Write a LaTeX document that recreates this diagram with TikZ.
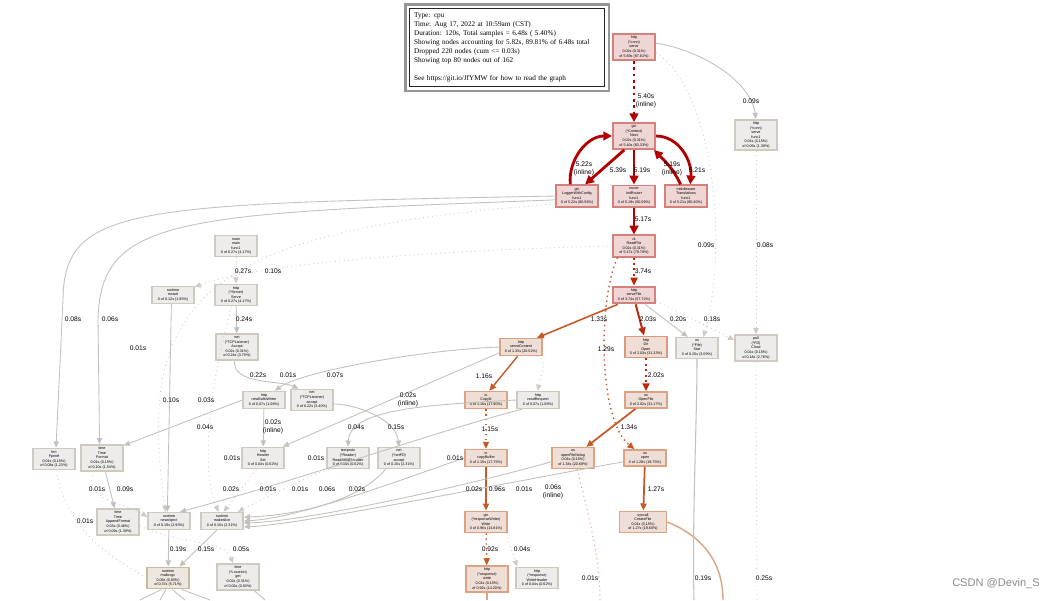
\documentclass[tikz,border=0pt]{standalone}
\usepackage{fontspec}
\setmainfont{Liberation Serif}
\setsansfont{Liberation Sans}
\usetikzlibrary{arrows.meta}

\definecolor{hotedge}{RGB}{178,0,0}
\definecolor{hotline}{RGB}{214,128,126}
\definecolor{hotfill}{RGB}{239,214,213}
\definecolor{midedge}{RGB}{190,40,10}
\definecolor{warmedge}{RGB}{196,90,40}
\definecolor{warmline}{RGB}{220,162,130}
\definecolor{warmfill}{RGB}{238,222,213}
\definecolor{tepidline}{RGB}{204,186,160}
\definecolor{tepidfill}{RGB}{237,231,223}
\definecolor{coolline}{RGB}{206,202,194}
\definecolor{coolfill}{RGB}{237,236,234}
\definecolor{cooledge}{RGB}{196,193,188}
\definecolor{faintedge}{RGB}{206,203,198}
\definecolor{legendframe}{RGB}{150,150,150}

\begin{document}
\begin{tikzpicture}[
    x=0.02cm, y=-0.02cm,
    font=\sffamily,
    % one style per heat of a function box
    fn/.style     = {draw, line width=0.9pt, align=center, inner xsep=1.5pt, inner ysep=1.2pt,
                     minimum width=0.84cm, font=\sffamily\fontsize{2.1}{2.6}\selectfont},
    hot/.style    = {fn, draw=hotline, fill=hotfill, line width=1.1pt},
    warm/.style   = {fn, draw=warmline, fill=warmfill},
    tepid/.style  = {fn, draw=tepidline, fill=tepidfill},
    cool/.style   = {fn, draw=coolline, fill=coolfill},
    lbl/.style    = {font=\sffamily\fontsize{3.8}{4.4}\selectfont, align=center, inner sep=0pt},
    legend/.style = {draw=black!85, line width=0.6pt, fill=white, align=left, text width=3.72cm,
                     inner sep=2.6pt, font=\rmfamily\fontsize{4.1}{5.1}\selectfont},
    hotarrow/.style   = {draw=hotedge, line width=1.6pt, -{Triangle[length=5pt,width=5pt]}},
    midarrow/.style   = {draw=midedge, line width=1.1pt, -{Triangle[length=4.5pt,width=4pt]}},
    warmarrow/.style  = {draw=warmedge, line width=0.8pt, -{Triangle[length=4pt,width=3.5pt]}},
    coolarrow/.style  = {draw=cooledge, line width=0.5pt, -{Triangle[length=3.5pt,width=3pt]}},
    faint/.style      = {draw=faintedge, line width=0.5pt, dotted},
    faintarrow/.style = {faint, -{Triangle[length=3.5pt,width=3pt]}},
  ]
  \fill[white] (0,0) rectangle (1049,600);
  \useasboundingbox (0,0) rectangle (1049,600);

  %% ---------- legend ----------
  \node[legend, anchor=north west] (legend) at (409,8) {Type: cpu\\
    Time: Aug 17, 2022 at 10:59am (CST)\\
    Duration: 120s, Total samples = 6.48s ( 5.40\%)\\
    Showing nodes accounting for 5.82s, 89.81\% of 6.48s total\\
    Dropped 220 nodes (cum <= 0.03s)\\
    Showing top 80 nodes out of 162\\[5.1pt]
    See https://git.io/JfYMW for how to read the graph};
  \draw[draw=legendframe, line width=1.2pt] ([shift={(-3.5,-3.5)}]legend.north west) rectangle ([shift={(3.5,3.5)}]legend.south east);

  %% ---------- function boxes ----------
  \node[hot] (connserve) at (634,47) {http\\(*conn)\\serve\\0.02s (0.31\%)\\of 5.69s (87.81\%)};
  \node[hot] (ctxnext) at (634,136) {gin\\(*Context)\\Next\\0.02s (0.31\%)\\of 5.40s (83.33\%)};
  \node[hot] (logger) at (577,196) {gin\\LoggerWithConfig\\func1\\0 of 5.22s (80.56\%)};
  \node[hot] (router) at (634,196) {router\\InitRouter\\func1\\0 of 5.19s (80.09\%)};
  \node[hot] (transl) at (686,196) {middleware\\Translations\\func1\\0 of 5.21s (80.40\%)};
  \node[cool] (servefunc) at (756,135) {http\\(*conn)\\serve\\func1\\0.01s (0.15\%)\\of 0.09s (1.39\%)};
  \node[hot] (readfile) at (634,246) {v1\\ReadFile\\0.02s (0.31\%)\\of 5.17s (79.78\%)};
  \node[hot] (servefile) at (634,295) {http\\serveFile\\0 of 3.74s (57.72\%)};
  \node[warm, draw=warmline!70!hotline] (diropen) at (646,347) {http\\Dir\\Open\\0 of 2.03s (31.33\%)};
  \node[cool] (filestat) at (697,348) {os\\(*File)\\Stat\\0 of 0.20s (3.09\%)};
  \node[cool] (pollclose) at (756,348) {poll\\(*FD)\\Close\\0.01s (0.15\%)\\of 0.18s (2.78\%)};

  \node[cool] (mainmain) at (236,246) {main\\main\\func1\\0 of 0.27s (4.17\%)};
  \node[cool] (srvserve) at (236,295) {http\\(*Server)\\Serve\\0 of 0.27s (4.17\%)};
  \node[cool] (mstart) at (173,295) {runtime\\mstart\\0 of 0.12s (1.85\%)};
  \node[cool] (tcpaccept) at (237,347) {net\\(*TCPListener)\\Accept\\0.02s (0.31\%)\\of 0.24s (3.70\%)};
  \node[warm] (servecontent) at (521,347) {http\\serveContent\\0 of 1.33s (20.52\%)};
  \node[cool] (newbufio) at (264,400) {http\\newBufioWriter\\0 of 0.07s (1.08\%)};
  \node[cool] (tcpaccept2) at (312,400) {net\\(*TCPListener)\\accept\\0 of 0.22s (3.40\%)};
  \node[warm] (copyn) at (486,400) {io\\CopyN\\0 of 1.16s (17.90\%)};
  \node[cool] (readreq) at (538,400) {http\\readRequest\\0 of 0.07s (1.08\%)};
  \node[warm] (osopenfile) at (646,400) {os\\OpenFile\\0 of 2.02s (31.17\%)};

  \node[cool] (headerset) at (263,458) {http\\Header\\Set\\0 of 0.04s (0.62\%)};
  \node[cool] (readmime) at (348,458) {textproto\\(*Reader)\\ReadMIMEHeader\\0 of 0.04s (0.62\%)};
  \node[cool] (fdaccept) at (399,458) {net\\(*netFD)\\accept\\0 of 0.15s (2.31\%)};
  \node[warm] (copybuf) at (486,458) {io\\copyBuffer\\0 of 1.15s (17.75\%)};
  \node[warm] (openfnl) at (573,458) {os\\openFileNolog\\0.01s (0.15\%)\\of 1.34s (20.68\%)};
  \node[warm] (osopen) at (645,458) {os\\open\\0 of 1.28s (19.75\%)};
  \node[cool] (fprintf) at (54,459) {fmt\\Fprintf\\0.01s (0.15\%)\\of 0.08s (1.23\%)};
  \node[cool] (timefmt) at (102,458) {time\\Time\\Format\\0.01s (0.15\%)\\of 0.10s (1.54\%)};

  \node[cool] (appendfmt) at (118,522) {time\\Time\\AppendFormat\\0.03s (0.46\%)\\of 0.09s (1.39\%)};
  \node[cool] (newobj) at (169,521) {runtime\\newobject\\0 of 0.19s (2.93\%)};
  \node[cool] (mkslice) at (222,521) {runtime\\makeslice\\0 of 0.15s (2.31\%)};
  \node[warm] (ginwrite) at (486,522) {gin\\(*responseWriter)\\Write\\0 of 0.96s (14.81\%)};
  \node[warm, minimum width=0.94cm] (createfile) at (643,522) {syscall\\CreateFile\\0.01s (0.15\%)\\of 1.27s (19.60\%)};
  \node[tepid] (mallocgc) at (168,578) {runtime\\mallocgc\\0.06s (0.93\%)\\of 0.37s (5.71\%)};
  \node[cool] (locget) at (238,577) {time\\(*Location)\\get\\0.02s (0.31\%)\\of 0.06s (0.93\%)};
  \node[warm] (respwrite) at (487,579) {http\\(*response)\\write\\0.01s (0.15\%)\\of 0.92s (14.20\%)};
  \node[cool] (writehdr) at (537,578) {http\\(*response)\\WriteHeader\\0 of 0.04s (0.62\%)};

  %% ---------- hot path ----------
  \draw[hotarrow, dotted] (connserve) -- (ctxnext);
  \draw[hotarrow] (ctxnext.-125) -- (logger.55);
  \draw[hotarrow] (logger.120) to[out=95, in=180] (ctxnext.west);
  \draw[hotarrow] (ctxnext) -- (router);
  \draw[hotarrow] (transl.115) to[out=115, in=-45] (ctxnext.-35);
  \draw[hotarrow] (ctxnext.east) to[out=0, in=85] (transl.70);
  \draw[hotarrow] (router) -- (readfile);
  \draw[midarrow, dotted] (readfile) -- (servefile);

  %% ---------- file serving ----------
  \draw[warmarrow, line width=0.9pt] (servefile.-150) -- (servecontent.30);
  \draw[midarrow] (servefile.-80) -- (diropen.100);
  \draw[coolarrow] (servefile.-40) -- (filestat.130);
  \draw[faintarrow] (servefile.-15) -- (pollclose.160);
  \draw[midarrow, dotted] (diropen) -- (osopenfile);
  \draw[warmarrow, line width=1pt] (osopenfile.-140) -- (openfnl.40);
  \draw[warmarrow, dotted] (readfile.-145) .. controls (598,300) and (598,420) .. (osopen.140);
  \draw[warmarrow, line width=1pt] (osopen) -- (createfile);
  \draw[draw=warmline, line width=0.8pt] (createfile.east) .. controls (700,535) and (723,560) .. (723,600);
  \draw[draw=warmline, line width=0.6pt, dotted] (openfnl.-70) .. controls (590,520) and (600,560) .. (600,600);

  \draw[coolarrow] (connserve.10) .. controls (700,50) and (750,80) .. (servefunc.north);
  \draw[faintarrow] (servefunc) -- (pollclose);
  \draw[faintarrow] (connserve.-15) .. controls (715,90) and (728,250) .. (filestat.60);
  \draw[draw=cooledge, line width=0.6pt] (filestat.south) .. controls (697,420) and (692,520) .. (694,600);
  \draw[faint] (pollclose.south) -- (757,600);

  \draw[warmarrow] (servecontent.-110) -- (copyn.70);
  \draw[warmarrow, dotted] (copyn) -- (copybuf);
  \draw[warmarrow] (copybuf) -- (ginwrite);
  \draw[warmarrow, dotted] (ginwrite) -- (respwrite);
  \draw[faintarrow] (ginwrite.-30) -- (writehdr.150);
  \draw[draw=warmline, line width=0.7pt] (respwrite.south) -- (487,600);

  %% ---------- server loop and runtime ----------
  \draw[faintarrow] (mainmain) -- (srvserve);
  \draw[coolarrow] (srvserve) -- (tcpaccept);
  \draw[faintarrow] (readfile.west) .. controls (450,250) and (260,262) .. (mstart.20);
  \draw[coolarrow] (tcpaccept.-100) .. controls (232,385) and (280,380) .. (tcpaccept2.140);
  \draw[coolarrow] (tcpaccept2.-10) .. controls (360,405) and (396,420) .. (fdaccept.north);
  \draw[coolarrow] (servecontent.west) .. controls (420,350) and (300,372) .. (newbufio.40);
  \draw[coolarrow] (servecontent.-165) -- (headerset.30);
  \draw[coolarrow] (newbufio) -- (headerset);
  \draw[coolarrow] (readreq.west) .. controls (420,405) and (350,410) .. (readmime.north);
  \draw[faintarrow] (servecontent.-30) .. controls (550,362) and (540,375) .. (readreq.north);

  \draw[coolarrow] (logger.west) .. controls (130,204) and (64,206) .. (63,300) -- (fprintf.80);
  \draw[coolarrow] (logger.-170) .. controls (180,214) and (100,216) .. (98,320) -- (timefmt.100);
  \draw[faintarrow] (logger.-160) .. controls (200,230) and (135,300) .. (newobj.110);
  \draw[coolarrow] (mstart.-100) -- (newobj.100);
  \draw[coolarrow] (newbufio.west) -- (timefmt.30);
  \draw[faintarrow] (srvserve.-110) .. controls (210,380) and (200,470) .. (mkslice.110);
  \draw[coolarrow] (timefmt) -- (appendfmt);
  \draw[faintarrow] (timefmt.-120) .. controls (80,500) and (130,505) .. (newobj.170);
  \draw[faint] (fprintf.-80) .. controls (70,540) and (120,560) .. (mallocgc.west);
  \draw[coolarrow] (newobj) -- (mallocgc);
  \draw[coolarrow] (mkslice.-120) -- (mallocgc.45);
  \draw[faintarrow] (appendfmt.-10) .. controls (180,545) and (225,540) .. (locget.110);

  \draw[coolarrow] (readreq.-150) .. controls (440,430) and (300,480) .. (newobj.40);
  \draw[faintarrow] (headerset.-120) -- (mkslice.80);
  \draw[faintarrow] (readmime.-150) .. controls (300,480) and (260,500) .. (mkslice.30);
  \draw[coolarrow] (fdaccept.-140) .. controls (360,500) and (300,515) .. (mkslice.10);
  \draw[coolarrow] (copybuf.west) .. controls (400,480) and (300,518) .. (mkslice.east);
  \draw[coolarrow] (openfnl.-170) .. controls (450,490) and (300,522) .. (mkslice.-5);
  \draw[coolarrow] (osopen.-170) .. controls (520,480) and (300,525) .. (mkslice.-15);

  % edges leaving the bottom of the view
  \foreach \ang/\bx in {-120/140, -100/160, -70/185, -40/210}
    \draw[draw=cooledge, line width=0.5pt] (mallocgc.\ang) -- (\bx,600);
  \draw[draw=cooledge, line width=0.5pt] (locget.-40) -- (265,600);

  %% ---------- edge weights ----------
  \foreach \lx/\ly/\lt [count=\k] in {
    646/101/{5.40s\\(inline)}, 584/169/{5.22s\\(inline)}, 618/170/5.39s, 642/170/5.19s,
    672/169/{5.19s\\(inline)}, 697/170/5.21s, 751/101/0.09s, 643/219/5.17s, 643/271/3.74s,
    706/245/0.09s, 765/245/0.08s, 243/271/0.27s, 273/271/0.10s, 244/319/0.24s,
    73/319/0.08s, 110/319/0.06s, 138/348/0.01s, 599/319/1.33s, 648/319/2.03s,
    678/319/0.20s, 712/319/0.18s, 606/349/1.29s, 258/375/0.22s, 288/375/0.01s,
    335/375/0.07s, 484/376/1.16s, 656/375/2.02s, 171/400/0.10s, 206/400/0.03s,
    408/400/{0.02s\\(inline)}, 205/427/0.04s, 273/427/{0.02s\\(inline)}, 356/427/0.04s,
    396/427/0.15s, 490/429/1.15s, 629/427/1.34s, 232/458/0.01s, 316/458/0.01s,
    455/458/0.01s, 97/489/0.01s, 125/489/0.09s, 231/489/0.02s, 268/489/0.01s,
    300/489/0.01s, 327/489/0.06s, 357/489/0.02s, 474/489/0.02s, 497/489/0.96s,
    524/489/0.01s, 553/492/{0.06s\\(inline)}, 656/489/1.27s, 85/521/0.01s,
    178/549/0.19s, 206/549/0.15s, 241/549/0.05s, 490/549/0.92s, 522/549/0.04s,
    590/578/0.01s, 703/578/0.19s, 765/578/0.25s
  } {
    \node[lbl] (w\k) at (\lx,\ly) {\lt};
  }

  \node[text=black!45, font=\sffamily\fontsize{6.3}{7}\selectfont] (mark) at (996,584) {CSDN @Devin\_S};
\end{tikzpicture}
\end{document}
